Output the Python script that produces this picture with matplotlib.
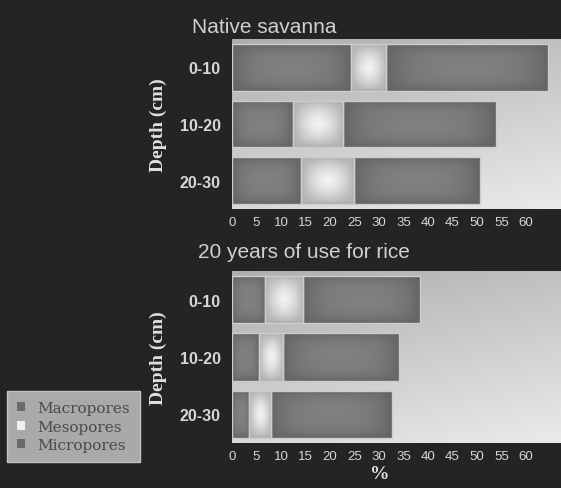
import numpy as np
import matplotlib.pyplot as plt
from matplotlib.patches import Patch

plt.rcParams.update({'font.family': 'Liberation Sans'})

#%% Data
depths = ['0-10', '10-20', '20-30']
savanna_macro = [24.2, 12.4, 14.0]
savanna_meso = [7.2, 10.3, 11.0]
savanna_micro = [33.1, 31.1, 25.6]
rice_macro = [6.8, 5.5, 3.5]
rice_meso = [7.8, 4.9, 4.5]
rice_micro = [23.8, 23.8, 24.7]
xticks = list(range(0, 65, 5))
legend_labels = ['Macropores', 'Mesopores', 'Micropores']

#%% Style
bg = '#242424'
txt = '#d6d6d6'
dark_edge, dark_centre = np.array([0.39, 0.39, 0.39]), np.array([0.50, 0.50, 0.50])
light_edge, light_centre = np.array([0.68, 0.68, 0.68]), np.array([0.95, 0.95, 0.95])


def shade(ax, patch, edge, centre, power):
    # pillow-like gradient clipped to the bar rectangle
    x0, y0 = patch.get_x(), patch.get_y()
    w, h = patch.get_width(), patch.get_height()
    u = np.linspace(-1, 1, 80)
    uu, vv = np.meshgrid(u, u)
    f = ((1 - np.abs(uu)**power) * (1 - np.abs(vv)**power))**0.8
    rgb = edge + (centre - edge)*f[..., None]
    im = ax.imshow(rgb, extent=(x0, x0 + w, y0, y0 + h), aspect='auto',
                   interpolation='bilinear', zorder=2)
    im.set_clip_path(patch)


def panel(ax, macro, meso, micro):
    ypos = np.arange(len(depths))
    # axes background gradient, darker towards the top left
    gx, gy = np.meshgrid(np.linspace(0, 1, 200), np.linspace(0, 1, 200))
    t = 0.3*gx + 0.7*gy
    g = 0.68 + 0.24*t
    ax.imshow(np.dstack([g, g, g]), extent=(0, 1, 0, 1), transform=ax.transAxes,
              aspect='auto', interpolation='bilinear', zorder=0)
    left = np.zeros(len(depths))
    sets = [(macro, dark_edge, dark_centre, 3),
            (meso, light_edge, light_centre, 1.5),
            (micro, dark_edge, dark_centre, 3)]
    for vals, e, c, p in sets:
        bars = ax.barh(ypos, vals, left=left, height=0.82, color='none',
                       edgecolor='#cdcdcd', linewidth=1.0, zorder=3)
        for patch in bars.patches:
            shade(ax, patch, e, c, p)
        left = left + np.array(vals)
    ax.set_xlim(0, 67)
    ax.set_ylim(2.5, -0.5)
    ax.set_yticks(ypos)
    ax.set_yticklabels(depths, fontsize=11.5, fontweight='bold', color=txt)
    ax.set_xticks(xticks)
    ax.set_xticklabels([str(v) for v in xticks], fontsize=9.5, color=txt)
    ax.tick_params(length=0)
    ax.tick_params(axis='y', pad=8)
    ax.tick_params(axis='x', pad=5)
    for s in ax.spines.values():
        s.set_visible(False)
    ax.set_ylabel('Depth (cm)', family='Liberation Serif', fontweight='bold',
                  fontsize=14, color='#e0e0e0', labelpad=9)


fig = plt.figure(figsize=(5.61, 4.89), dpi=100, facecolor=bg)
ax1 = fig.add_axes([0.4135, 0.5706, 0.585, 0.3476])
ax2 = fig.add_axes([0.4135, 0.0920, 0.585, 0.3518])

panel(ax1, savanna_macro, savanna_meso, savanna_micro)
panel(ax2, rice_macro, rice_meso, rice_micro)

fig.text(0.342, 0.932, 'Native savanna', fontsize=15, color='#d0d0d0')
fig.text(0.353, 0.472, '20 years of use for rice', fontsize=15, color='#d0d0d0')
ax2.set_xlabel('%', family='Liberation Serif', fontweight='bold', fontsize=14,
               color='#e0e0e0', labelpad=2)
ax2.xaxis.label.set_x(0.45)

handles = [Patch(facecolor='#6a6a6a', edgecolor='none'),
           Patch(facecolor='#f0f0f0', edgecolor='none'),
           Patch(facecolor='#6a6a6a', edgecolor='none')]
leg = fig.legend(handles, legend_labels, loc='lower left', bbox_to_anchor=(0.012, 0.053),
                 borderaxespad=0, fancybox=False, facecolor='#a9a9a9', edgecolor='#c4c4c4',
                 framealpha=1, prop={'family': 'DejaVu Serif', 'size': 11},
                 handlelength=0.55, handleheight=0.55, handletextpad=0.8,
                 labelspacing=0.3, borderpad=0.65)
for t in leg.get_texts():
    t.set_color('#4a4a4a')

fig.savefig('out.png', dpi=100, facecolor=bg)
